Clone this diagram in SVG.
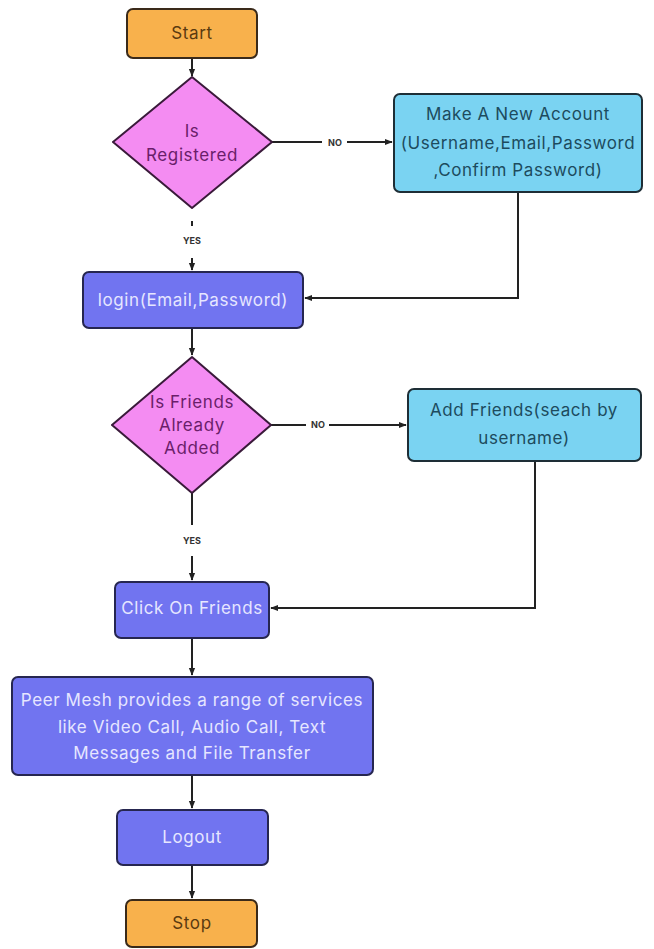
<svg xmlns="http://www.w3.org/2000/svg" width="654" height="949" viewBox="0 0 654 949">
<defs>
<marker id="ah" viewBox="0 0 10 10" refX="9" refY="5" markerWidth="4" markerHeight="4" orient="auto" markerUnits="strokeWidth">
<path d="M0,1 L10,5 L0,9 z" fill="#222"/>
</marker>
<style>
.term{fill:#F8B14C;stroke:#3a2a1a;stroke-width:2}
.dec{fill:#F48CF2;stroke:#3a1a3a;stroke-width:2;stroke-linejoin:round}
.cyan{fill:#7AD3F2;stroke:#1e2e36;stroke-width:2}
.blue{fill:#7174F0;stroke:#262650;stroke-width:2}
text{font-family:Inter,"Open Sans","Liberation Sans",sans-serif;text-anchor:middle;dominant-baseline:central;letter-spacing:0.6px}
.tt{font-size:17px;fill:#5a3a10}
.td{font-size:17px;fill:#6a1e6a}
.tc{font-size:17px;fill:#1d4b5e}
.tb{font-size:17px;fill:#e6e6ff}
.lbl{font-size:9px;font-weight:bold;fill:#333;letter-spacing:0}
.ln{fill:none;stroke:#222;stroke-width:2}
</style>
</defs>
<g id="connectors">
<path class="ln" d="M192,58 V76" marker-end="url(#ah)"/>
<path class="ln" d="M272,142 H322"/>
<text class="lbl" x="335" y="142">NO</text>
<path class="ln" d="M347,142 H392" marker-end="url(#ah)"/>
<path class="ln" d="M192,221 V226"/>
<text class="lbl" x="192" y="240">YES</text>
<path class="ln" d="M192,258 V270" marker-end="url(#ah)"/>
<path class="ln" d="M518,193 V298 H305" marker-end="url(#ah)"/>
<path class="ln" d="M192,329 V355" marker-end="url(#ah)"/>
<path class="ln" d="M271,425 H306"/>
<text class="lbl" x="318" y="424">NO</text>
<path class="ln" d="M329,425 H406" marker-end="url(#ah)"/>
<path class="ln" d="M192,493 V525"/>
<text class="lbl" x="192" y="540">YES</text>
<path class="ln" d="M192,556 V580" marker-end="url(#ah)"/>
<path class="ln" d="M535,462 V608 H271" marker-end="url(#ah)"/>
<path class="ln" d="M192,639 V675" marker-end="url(#ah)"/>
<path class="ln" d="M192,776 V808" marker-end="url(#ah)"/>
<path class="ln" d="M192,866 V898" marker-end="url(#ah)"/>
</g>
<g id="start">
<rect class="term" x="127" y="9" width="130" height="49" rx="6"/>
<text class="tt" x="192" y="33">Start</text>
</g>
<g id="is-registered">
<path class="dec" d="M192,77 L272,142 L192,208 L113,142 Z"/>
<text class="td" x="192" y="131">Is</text>
<text class="td" x="192" y="155">Registered</text>
</g>
<g id="new-account">
<rect class="cyan" x="394" y="94" width="248" height="98" rx="6"/>
<text class="tc" x="518" y="114">Make A New Account</text>
<text class="tc" x="518" y="143">(Username,Email,Password</text>
<text class="tc" x="518" y="170">,Confirm Password)</text>
</g>
<g id="login">
<rect class="blue" x="83" y="272" width="220" height="56" rx="6"/>
<text class="tb" x="193" y="300">login(Email,Password)</text>
</g>
<g id="friends-added">
<path class="dec" d="M192,357 L271,425 L192,493 L112,425 Z"/>
<text class="td" x="192" y="402">Is Friends</text>
<text class="td" x="192" y="425">Already</text>
<text class="td" x="192" y="448">Added</text>
</g>
<g id="add-friends">
<rect class="cyan" x="408" y="389" width="233" height="72" rx="6"/>
<text class="tc" x="524" y="410">Add Friends(seach by</text>
<text class="tc" x="524" y="438">username)</text>
</g>
<g id="click-friends">
<rect class="blue" x="115" y="582" width="154" height="56" rx="6"/>
<text class="tb" x="192" y="608">Click On Friends</text>
</g>
<g id="services">
<rect class="blue" x="12" y="677" width="361" height="98" rx="6"/>
<text class="tb" x="192" y="700">Peer Mesh provides a range of services</text>
<text class="tb" x="192" y="727">like Video Call, Audio Call, Text</text>
<text class="tb" x="192" y="753">Messages and File Transfer</text>
</g>
<g id="logout">
<rect class="blue" x="117" y="810" width="151" height="55" rx="6"/>
<text class="tb" x="192" y="837">Logout</text>
</g>
<g id="stop">
<rect class="term" x="126" y="900" width="131" height="47" rx="6"/>
<text class="tt" x="192" y="923">Stop</text>
</g>
</svg>
